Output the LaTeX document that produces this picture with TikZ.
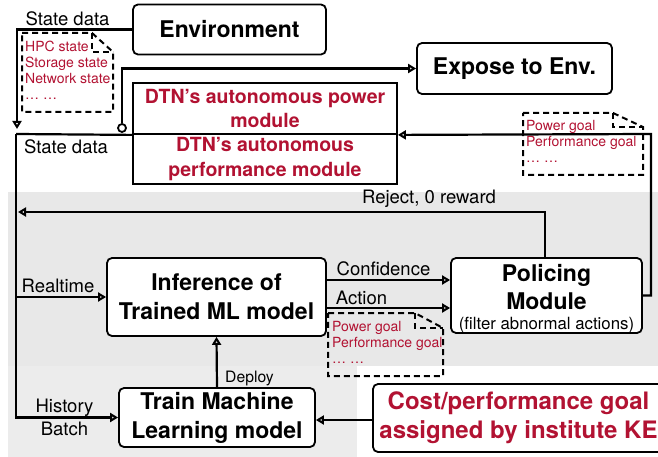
\documentclass[tikz,border=0pt]{standalone}
\usepackage{fontspec}
\setmainfont{TeX Gyre Heros}
\usetikzlibrary{arrows.meta,calc}
\definecolor{dtnred}{RGB}{178,18,50}
\definecolor{bggray}{RGB}{232,232,232}
\definecolor{bggraylow}{RGB}{236,236,236}
\begin{document}
\begin{tikzpicture}[x=1pt,y=-1pt,
  box/.style={draw, line width=1.8pt, rounded corners=5pt, fill=white, inner sep=0pt, align=center},
  big/.style={font=\fontsize{23}{29}\selectfont\bfseries},
  dtnbox/.style={draw, line width=1.8pt, fill=white, inner sep=0pt, align=center, text=dtnred, minimum width=264pt, font=\fontsize{19.5}{24.5}\selectfont\bfseries},
  lbl/.style={font=\fontsize{18.5}{22}\selectfont, inner sep=0pt},
  smallred/.style={font=\fontsize{14}{16}\selectfont, text=dtnred, inner sep=0pt, anchor=north west, align=left},
  conn/.style={line width=2.2pt, -{Triangle[open,length=8pt,width=9pt]}},
  wire/.style={line width=2.2pt},
  doc/.style={line width=2pt, dash pattern=on 6pt off 4pt}
]
\useasboundingbox (0,0) rectangle (658,457);
\clip (0,0) rectangle (658,457);

% backgrounds
\fill[bggray] (8,192) rectangle (658,366);
\fill[bggraylow] (8,366) rectangle (357,457);

% document shapes
\draw[doc] (22,33) -- (92,33) -- (113,52) -- (113,112) -- (22,112) -- cycle;
\draw[doc] (92,33) -- (92,52) -- (113,52);
\node[smallred] (d1) at (25,41) {HPC state\\Storage state\\Network state\\… …};

\draw[doc] (523,113) -- (613,113) -- (643,127) -- (643,175) -- (523,175) -- cycle;
\draw[doc] (613,113) -- (613,127) -- (643,127);
\node[smallred] (d2) at (526,120) {Power goal\\Performance goal\\… …};

\draw[doc] (328,313) -- (415,313) -- (443,328) -- (443,376) -- (328,376) -- cycle;
\draw[doc] (415,313) -- (415,328) -- (443,328);
\node[smallred] (d3) at (332,321) {Power goal\\Performance goal\\… …};

% boxes
\node[box,big,minimum width=193pt,minimum height=50pt] (env) at (229.5,29.5) {Environment};
\node[box,big,minimum width=195pt,minimum height=51pt] (expose) at (514.5,68.5) {Expose to Env.};
\node[dtnbox,minimum height=51pt] (dtnA) at (265,108.5) {DTN's autonomous power\\module};
\node[dtnbox,minimum height=50pt] (dtnB) at (265,159) {DTN's autonomous\\performance module};
\node[box,big,minimum width=219pt,minimum height=78pt] (infer) at (216.5,297) {Inference of\\Trained ML model};
\node[box,big,minimum width=196pt,minimum height=59pt] (train) at (217,417.5) {Train Machine\\Learning model};
\node[box,minimum width=191pt,minimum height=75pt] (police) at (546.5,295.5) {};
\node[inner sep=0pt,align=center,font=\fontsize{23}{28}\selectfont\bfseries] (ptitle) at (546.5,287) {Policing\\Module};
\node[inner sep=0pt,font=\fontsize{16.8}{20}\selectfont] (pnote) at (546.5,325) {(filter abnormal actions)};
\node[box,minimum width=291pt,minimum height=68pt,text=dtnred,font=\fontsize{24}{29}\selectfont\bfseries] (cost) at (518.5,418) {Cost/performance goal\\assigned by institute KE};

% connectors
\coordinate (envin) at (17,129);
\draw[conn] (env.west) -| (envin);
\node[lbl] (sdtop) at (67.5,19) {State data};

\node[circle,draw,line width=1.8pt,fill=white,inner sep=0pt,minimum size=8pt] (tap) at (122,128) {};
\draw[conn] (tap.north) |- (expose.west);

\coordinate (sd) at (16,134);
\draw[wire] (sd) -- (dtnA.south west);
\node[lbl] (sdlow) at (66,147) {State data};
\draw[conn] (sd) |- (train.west);
\coordinate (rt) at (16,297);
\draw[conn] (rt) -- (infer.west);
\node[lbl] (lrt) at (58,286) {Realtime};
\node[lbl] (lhist) at (64.5,408) {History};
\node[lbl] (lbatch) at (64.5,429) {Batch};

\coordinate (rc) at (651,134);
\draw[conn] (police.east) -| (rc) -- (dtnA.south east);

\coordinate (rj) at (545,212);
\coordinate (rjend) at (18,212);
\draw[conn] (police.north -| rj) -- (rj) -- (rjend);
\node[lbl] (lrej) at (429,199) {Reject, 0 reward};

\draw[conn] (infer.east |- 0,280) -- (police.west |- 0,280);
\node[lbl] (lconf) at (383.5,269) {Confidence};
\draw[conn] (infer.east |- 0,308) -- (police.west |- 0,308);
\node[lbl] (lact) at (361.5,298) {Action};

\draw[conn] (train.north) -- (infer.south);
\node[lbl,font=\fontsize{15.7}{18}\selectfont] (ldep) at (249.5,378) {Deploy};

\draw[conn] (cost.west |- 0,420) -- (train.east |- 0,420);
\end{tikzpicture}
\end{document}
